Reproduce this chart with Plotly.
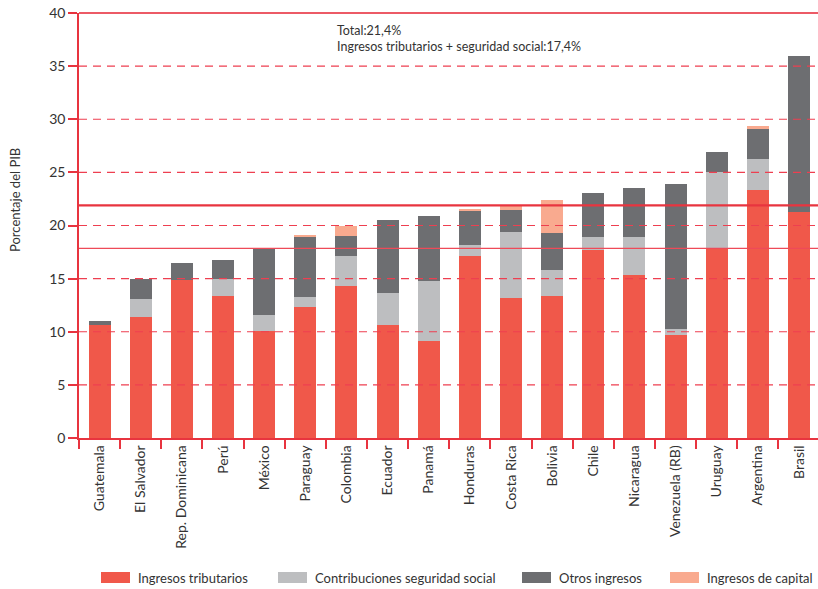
import plotly.graph_objects as go

categories = ["Guatemala", "El Salvador", "Rep. Dominicana", "Perú", "México", "Paraguay",
              "Colombia", "Ecuador", "Panamá", "Honduras", "Costa Rica", "Bolivia", "Chile",
              "Nicaragua", "Venezuela (RB)", "Uruguay", "Argentina", "Brasil"]

ingresos_tributarios = [10.6, 11.4, 14.9, 13.4, 10.1, 12.3, 14.3, 10.6, 9.1, 17.1, 13.2, 13.4, 17.7, 15.3, 9.7, 17.9, 23.3, 21.3]
seguridad_social =     [0.0, 1.7, 0.0, 1.6, 1.5, 0.95, 2.8, 3.05, 5.7, 1.05, 6.2, 2.45, 1.2, 3.6, 0.55, 7.15, 2.95, 0.0]
otros_ingresos =       [0.4, 1.9, 1.6, 1.8, 6.25, 5.65, 1.9, 6.85, 6.1, 3.2, 2.05, 3.45, 4.15, 4.6, 13.65, 1.9, 2.8, 14.65]
ingresos_capital =     [0.0, 0.0, 0.0, 0.0, 0.0, 0.2, 0.95, 0.0, 0.0, 0.2, 0.4, 3.1, 0.0, 0.0, 0.0, 0.0, 0.3, 0.0]

series_names = ["Ingresos tributarios", "Contribuciones seguridad social", "Otros ingresos", "Ingresos de capital"]
series_values = [ingresos_tributarios, seguridad_social, otros_ingresos, ingresos_capital]
series_colors = ["#F0584A", "#BDBEC0", "#6D6E71", "#F9AA8F"]

y_ticks = [0, 5, 10, 15, 20, 25, 30, 35, 40]
promedio_total_linea = 21.9
promedio_trib_ss_linea = 17.85
nota = ["Total:21,4%", "Ingresos tributarios + seguridad social:17,4%"]
y_title = "Porcentaje del PIB"

FONT = "Lato"
RED = "#E8343F"
TXT = "#333333"

fig = go.Figure()
for name, vals, col in zip(series_names, series_values, series_colors):
    fig.add_trace(go.Bar(x=categories, y=vals, name=name, marker_color=col,
                         marker_line_width=0, showlegend=False))

shapes = []
# dashed gridlines drawn above bars
for t in y_ticks[1:-1]:
    shapes.append(dict(type="line", xref="paper", yref="y", x0=0, x1=1, y0=t, y1=t,
                       line=dict(color="#EE3F50", width=1.2, dash="8px,6px"), layer="above"))
# top solid line (paper-referenced so it is not clipped)
shapes.append(dict(type="line", xref="paper", yref="paper", x0=0, x1=1, y0=1, y1=1,
                   line=dict(color="#EC5A66", width=2), layer="above"))
# average lines
shapes.append(dict(type="line", xref="paper", yref="y", x0=0, x1=1,
                   y0=promedio_total_linea, y1=promedio_total_linea,
                   line=dict(color=RED, width=2.2), layer="above"))
shapes.append(dict(type="line", xref="paper", yref="y", x0=0, x1=1,
                   y0=promedio_trib_ss_linea, y1=promedio_trib_ss_linea,
                   line=dict(color="#EE4A58", width=1.4), layer="above"))

# custom legend
W, H = 818, 589
ml, mr, mt, mb = 79, 0, 13, 151
pw, ph = W - ml - mr, H - mt - mb
def px(x):
    return (x - ml) / pw
def py(y):
    return (H - mb - y) / ph

legend_x = [101, 278, 522, 670]
annotations = []
for name, col, lx in zip(series_names, series_colors, legend_x):
    shapes.append(dict(type="rect", xref="paper", yref="paper", x0=px(lx), x1=px(lx + 29),
                       y0=py(583), y1=py(572), fillcolor=col, line_width=0))
    annotations.append(dict(xref="paper", yref="paper", x=px(lx + 35), y=py(577.5), text=name,
                            showarrow=False, xanchor="left", yanchor="middle",
                            font=dict(family=FONT, size=13, color=TXT)))

annotations.append(dict(xref="paper", yref="paper", x=px(335), y=py(21), text="<br>".join(nota),
                        showarrow=False, xanchor="left", yanchor="top", align="left",
                        font=dict(family=FONT, size=12.5, color=TXT)))
annotations.append(dict(xref="paper", yref="paper", x=px(15), y=py(200), text=y_title,
                        showarrow=False, textangle=-90, xanchor="center", yanchor="middle",
                        font=dict(family=FONT, size=13, color=TXT)))

fig.update_layout(
    width=W, height=H,
    margin=dict(l=ml, r=mr, t=mt, b=mb, pad=0),
    barmode="stack", bargap=0.466,
    plot_bgcolor="white", paper_bgcolor="white",
    font=dict(family=FONT, size=14, color=TXT),
    shapes=shapes, annotations=annotations,
    showlegend=False,
    xaxis=dict(range=[-0.5, len(categories) - 0.5 - 1.6 / 41.2], tickangle=-90,
               showline=True, linecolor=RED, linewidth=1.5,
               ticks="outside", tickson="boundaries", ticklen=9, tickcolor=RED, tickwidth=1.5,
               showgrid=False, zeroline=False, tickfont=dict(family=FONT, size=14, color=TXT)),
    yaxis=dict(range=[0, 40], tickvals=y_ticks, showline=True, linecolor=RED, linewidth=1.5,
               ticks="outside", ticklen=9, tickcolor=RED, tickwidth=1.5,
               showgrid=False, zeroline=False, tickfont=dict(family=FONT, size=14, color=TXT)),
)

fig.write_html("out.html", config={"displayModeBar": False},
               post_script="document.body.style.margin='0';document.body.style.overflow='hidden';")
